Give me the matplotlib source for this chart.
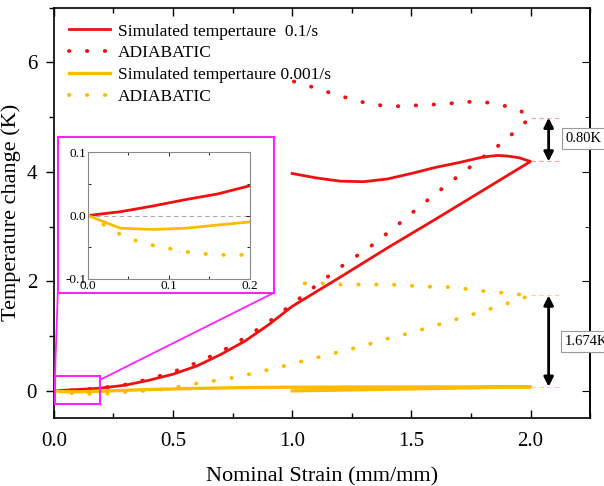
import matplotlib
matplotlib.use("Agg")
import matplotlib.pyplot as plt
from matplotlib.patches import Rectangle
from matplotlib.ticker import MultipleLocator

plt.rcParams['font.family'] = ['Liberation Serif', 'DejaVu Serif']

RED = '#f01010'
ORANGE = '#ffbb00'

# 0.1/s simulated: loading then unloading back to 1.0
red_load_x = [0, 0.04, 0.08, 0.12, 0.16, 0.2, 0.3, 0.4, 0.5, 0.6, 0.7, 0.8, 0.9, 1.0,
              1.2, 1.4, 1.6, 1.8, 2.0]
red_load_y = [0, 0.006, 0.015, 0.025, 0.034, 0.047, 0.1, 0.19, 0.3, 0.45, 0.66, 0.9, 1.2, 1.54,
              2.07, 2.61, 3.13, 3.66, 4.19]
red_unload_x = [2.0, 1.95, 1.9, 1.86, 1.8, 1.7, 1.6, 1.5, 1.4, 1.3, 1.2, 1.1, 1.0]
red_unload_y = [4.19, 4.26, 4.29, 4.30, 4.27, 4.17, 4.08, 3.97, 3.87, 3.82, 3.83, 3.89, 3.97]

# 0.1/s adiabatic
red_adi_x = [0, 0.1, 0.2, 0.3, 0.4, 0.5, 0.6, 0.7, 0.8, 0.9, 1.0, 1.1, 1.2, 1.33, 1.44, 1.55,
             1.66, 1.78, 1.89, 1.95, 2.0,
             1.95, 1.87, 1.80, 1.73, 1.66, 1.59, 1.45, 1.38, 1.30, 1.24, 1.17, 1.10, 1.05, 1.0]
red_adi_y = [0, 0.01, 0.05, 0.11, 0.21, 0.34, 0.51, 0.71, 0.96, 1.25, 1.58, 1.92, 2.25, 2.64, 3.02, 3.42,
             3.80, 4.2, 4.56, 4.8, 4.99,
             5.14, 5.23, 5.28, 5.28, 5.25, 5.23, 5.2, 5.21, 5.27, 5.34, 5.43, 5.53, 5.6, 5.66]

# 0.001/s simulated
org_x = [0, 0.04, 0.08, 0.12, 0.16, 0.2, 0.4, 0.6, 0.8, 1.0, 1.2, 1.4, 1.6, 1.8, 2.0,
         1.8, 1.6, 1.4, 1.2, 1.0]
org_y = [0, -0.02, -0.022, -0.02, -0.015, -0.01, 0.02, 0.04, 0.055, 0.062, 0.065, 0.066, 0.067, 0.068, 0.07,
         0.055, 0.04, 0.025, 0.01, -0.005]

# 0.001/s adiabatic
org_adi_x = [0, 0.02, 0.04, 0.06, 0.08, 0.1, 0.12, 0.14, 0.16, 0.18, 0.2, 0.28, 0.36, 0.43, 0.5,
             0.57, 0.64, 0.71, 0.78, 0.85, 0.92, 1.0, 1.1, 1.2, 1.3, 1.4, 1.5, 1.6, 1.7, 1.8, 1.9, 2.0,
             1.92, 1.84, 1.77, 1.70, 1.63, 1.56, 1.49, 1.41, 1.34, 1.27, 1.2, 1.13, 1.06, 1.0]
org_adi_y = [0, -0.015, -0.03, -0.04, -0.047, -0.052, -0.057, -0.06, -0.062, -0.062, -0.062, -0.03, -0.01, 0.01, 0.05,
             0.11, 0.16, 0.2, 0.26, 0.33, 0.4, 0.49, 0.6, 0.71, 0.82, 0.95, 1.06, 1.19, 1.32, 1.45, 1.59, 1.74,
             1.77, 1.81, 1.83, 1.88, 1.9, 1.9, 1.92, 1.94, 1.94, 1.94, 1.94, 1.96, 1.96, 1.97]

fast_top, fast_bot = 4.99, 4.19
slow_top, slow_bot = 1.74, 0.07
arrow_x = 2.076

dot = dict(linestyle=(0, (0.1, 4.5)), dash_capstyle='round', lw=2.8)

fig = plt.figure(figsize=(6.04, 4.86), dpi=100)
ax = fig.add_axes([0.089, 0.140, 0.888, 0.844])

ax.plot(red_load_x + red_unload_x, red_load_y + red_unload_y, color=RED, lw=2,
        label='Simulated tempertaure  0.1/s')
ax.plot(red_adi_x, red_adi_y, color=RED, label='ADIABATIC', **dot)
ax.plot(org_x, org_y, color=ORANGE, lw=2.4, label='Simulated tempertaure 0.001/s')
ax.plot(org_adi_x, org_adi_y, color=ORANGE, label='ADIABATIC', **dot)

ax.set_xlim(0, 2.25)
ax.set_ylim(-0.5, 7)
ax.xaxis.set_major_locator(MultipleLocator(0.5))
ax.xaxis.set_minor_locator(MultipleLocator(0.25))
ax.yaxis.set_major_locator(MultipleLocator(2))
ax.yaxis.set_minor_locator(MultipleLocator(1))
ax.tick_params(which='both', labelsize=15, width=1)
ax.tick_params(axis='x', which='both', direction='in', top=True, pad=10)
ax.tick_params(axis='y', which='both', direction='out', right=False, pad=6)
ax.tick_params(which='major', length=6)
ax.tick_params(which='minor', length=3.5)
sec = ax.secondary_yaxis('right')
sec.yaxis.set_major_locator(MultipleLocator(2))
sec.yaxis.set_minor_locator(MultipleLocator(1))
sec.tick_params(which='both', direction='in', labelright=False)
sec.tick_params(which='major', length=6)
sec.tick_params(which='minor', length=3.5)
ax.xaxis.set_major_formatter(plt.FuncFormatter(lambda v, p: f'{v:.1f}'))
for s in list(ax.spines.values()) + [sec.spines['right']]:
    s.set_linewidth(1.2)
ax.set_xlabel('Nominal Strain (mm/mm)', fontsize=16, labelpad=12)
ax.set_ylabel('Temperature change (K)', fontsize=16, labelpad=4)

ax.legend(loc='upper left', frameon=False, fontsize=12.5, handlelength=2.35,
          labelspacing=0.32, handletextpad=0.45, borderaxespad=0.5, bbox_to_anchor=(0.0, 1.0))

# difference markers
for y, c in [(fast_top, '#ff9a9a'), (fast_bot, '#ff9a9a'), (slow_top, '#ffd77a'), (slow_bot, '#ffd77a')]:
    ax.plot([2.0, 2.125], [y, y], color=c, lw=0.8, ls=(0, (4, 3)))
for top, bot in [(fast_top, fast_bot), (slow_top, slow_bot)]:
    ax.annotate('', xy=(arrow_x, bot), xytext=(arrow_x, top),
                arrowprops=dict(arrowstyle='<|-|>', color='black', lw=2, mutation_scale=14,
                                shrinkA=0, shrinkB=0))
box = dict(boxstyle='square,pad=0.25', fc='white', ec='#999999', lw=0.8)
ax.text(2.148, 4.61, '0.80K', fontsize=10.5, va='center', ha='left', bbox=box, clip_on=False)
ax.text(2.145, 0.9, '1.674K', fontsize=10.5, va='center', ha='left', bbox=box, clip_on=False)

# zoom markers
MAG = '#ff22ff'
ax.add_patch(Rectangle((0.005, -0.24), 0.19, 0.51, fill=False, ec=MAG, lw=1.5, zorder=5))
ax.add_patch(Rectangle((0.017, 1.79), 0.907, 2.85, fill=True, fc='white', ec=MAG, lw=1.5, zorder=5))
ax.plot([0.005, 0.017], [0.27, 1.79], color=MAG, lw=1.3, zorder=5)
ax.plot([0.195, 0.924], [0.2, 1.79], color=MAG, lw=1.3, zorder=5)

ins = fig.add_axes([0.1457, 0.426, 0.268, 0.261], zorder=10)
ins.plot(red_load_x[:6], red_load_y[:6], color=RED, lw=2)
ins.plot(org_x[:6], org_y[:6], color=ORANGE, lw=2)
ins.plot(org_adi_x[:11], org_adi_y[:11], color=ORANGE, **dot)
ins.axhline(0, color='#aaaaaa', lw=0.8, ls=(0, (4, 3)), zorder=0)
ins.set_xlim(0, 0.2)
ins.set_ylim(-0.1, 0.1)
ins.xaxis.set_major_locator(MultipleLocator(0.1))
ins.xaxis.set_minor_locator(MultipleLocator(0.05))
ins.yaxis.set_major_locator(MultipleLocator(0.1))
ins.yaxis.set_minor_locator(MultipleLocator(0.05))
ins.xaxis.set_major_formatter(plt.FuncFormatter(lambda v, p: f'{v:.1f}'))
ins.yaxis.set_major_formatter(plt.FuncFormatter(lambda v, p: f'{v:.1f}'))
ins.tick_params(which='both', direction='in', top=True, right=True, labelsize=9.5, pad=1, width=0.6)
ins.tick_params(which='major', length=3)
ins.tick_params(which='minor', length=2)
for s in ins.spines.values():
    s.set_color('#888888')
    s.set_linewidth(0.8)

fig.savefig('out.png', dpi=100)
